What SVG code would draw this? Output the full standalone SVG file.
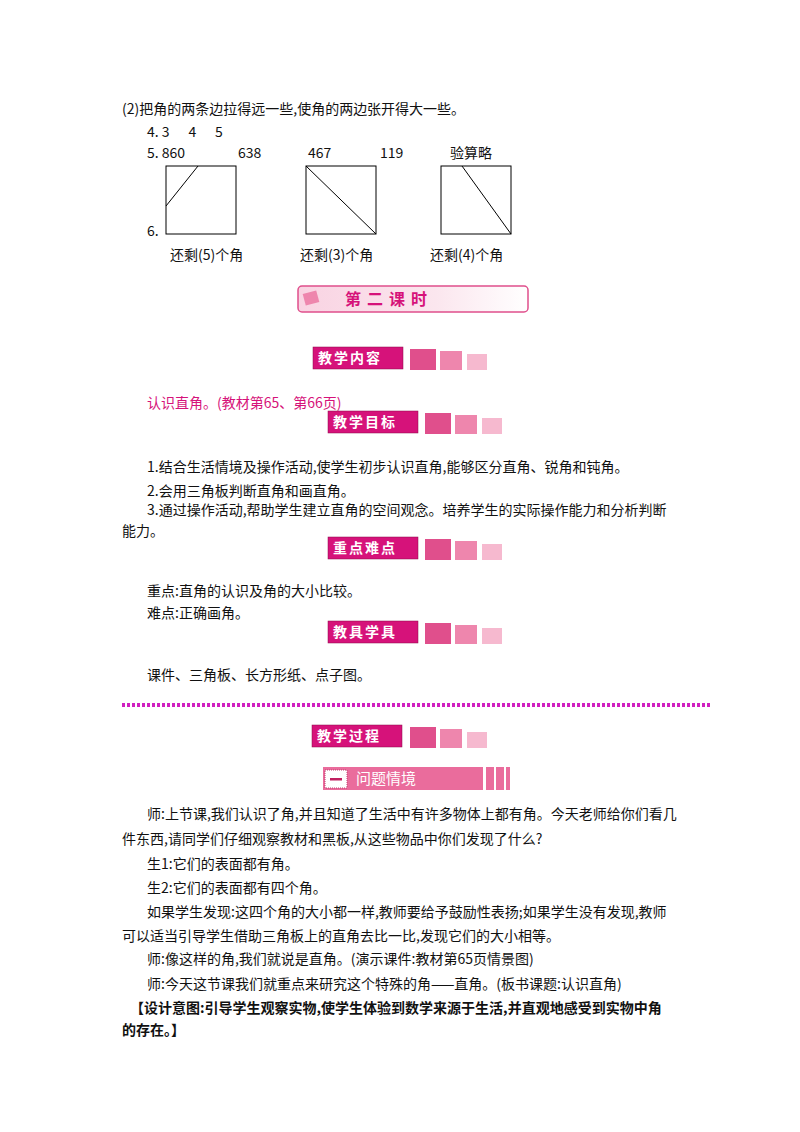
<svg xmlns="http://www.w3.org/2000/svg" width="800" height="1132" viewBox="0 0 800 1132">
<defs>
<style>
text{font-family:"Noto Sans CJK SC","Liberation Sans",sans-serif;font-size:14px;fill:#111}
.b{font-weight:bold}
.tag{fill:#d6127a;stroke:#8a0a4a;stroke-width:0.5}
.tt{fill:#fff;font-size:14px;font-weight:bold;letter-spacing:2px}
.s1{fill:#e04f8c}.s2{fill:#ee86ad}.s3{fill:#f6b9cf}
.sq{fill:none;stroke:#000;stroke-width:1}
</style>
<linearGradient id="g" x1="0" x2="1"><stop offset="0" stop-color="#f9d3e2"/><stop offset="0.6" stop-color="#fbe6ee"/><stop offset="1" stop-color="#fff"/></linearGradient>
</defs>
<rect width="800" height="1132" fill="#fff"/>
<text x="122" y="114">(2)把角的两条边拉得远一些,使角的两边张开得大一些。</text>
<text x="147" y="137" xml:space="preserve">4. 3      4      5</text>
<text x="147" y="158">5. 860</text><text x="238" y="158">638</text><text x="308" y="158">467</text><text x="380" y="158">119</text><text x="450" y="158">验算略</text>
<g id="sq1"><rect class="sq" x="166" y="166" width="70" height="68"/><line x1="198" y1="166" x2="166" y2="206" stroke="#000"/></g>
<g id="sq2"><rect class="sq" x="306" y="166" width="70" height="68"/><line x1="306" y1="166" x2="376" y2="234" stroke="#000"/></g>
<g id="sq3"><rect class="sq" x="441" y="166" width="70" height="68"/><line x1="462" y1="166" x2="511" y2="234" stroke="#000"/></g>
<text x="147" y="236">6.</text>
<text x="170" y="260">还剩(5)个角</text><text x="300" y="260">还剩(3)个角</text><text x="430" y="260">还剩(4)个角</text>
<g id="lesson">
<rect x="298" y="286" width="230" height="26" rx="4" fill="url(#g)" stroke="#e04f8c" stroke-width="1.5"/>
<rect x="304" y="292" width="14" height="12" fill="#ee86ad" transform="rotate(-15 311 298)"/>
<text x="345" y="305" class="b" style="fill:#d6127a;font-size:16px;letter-spacing:6px">第二课时</text>
</g>
<g id="h1"><rect class="tag" x="313" y="347" width="90" height="22"/><text class="tt" x="318" y="363">教学内容</text><rect class="s1" x="410" y="349" width="26" height="21"/><rect class="s2" x="440" y="351" width="22" height="19"/><rect class="s3" x="467" y="354" width="20" height="16"/></g>
<text x="147" y="408" style="fill:#d6127a">认识直角。(教材第65、第66页)</text>
<g id="h2"><rect class="tag" x="328" y="411" width="90" height="22"/><text class="tt" x="333" y="427">教学目标</text><rect class="s1" x="425" y="413" width="26" height="21"/><rect class="s2" x="455" y="415" width="22" height="19"/><rect class="s3" x="482" y="418" width="20" height="16"/></g>
<text x="147" y="472">1.结合生活情境及操作活动,使学生初步认识直角,能够区分直角、锐角和钝角。</text>
<text x="147" y="496">2.会用三角板判断直角和画直角。</text>
<text x="147" y="515">3.通过操作活动,帮助学生建立直角的空间观念。培养学生的实际操作能力和分析判断</text>
<text x="122" y="536">能力。</text>
<g id="h3"><rect class="tag" x="328" y="537" width="90" height="22"/><text class="tt" x="333" y="553">重点难点</text><rect class="s1" x="425" y="539" width="26" height="21"/><rect class="s2" x="455" y="541" width="22" height="19"/><rect class="s3" x="482" y="544" width="20" height="16"/></g>
<text x="147" y="596">重点:直角的认识及角的大小比较。</text>
<text x="147" y="618">难点:正确画角。</text>
<g id="h4"><rect class="tag" x="328" y="621" width="90" height="22"/><text class="tt" x="333" y="637">教具学具</text><rect class="s1" x="425" y="623" width="26" height="21"/><rect class="s2" x="455" y="625" width="22" height="19"/><rect class="s3" x="482" y="628" width="20" height="16"/></g>
<text x="147" y="680">课件、三角板、长方形纸、点子图。</text>
<line x1="122" y1="705" x2="712" y2="705" stroke="#d020c0" stroke-width="4" stroke-dasharray="3 2"/>
<g id="h5"><rect class="tag" x="312" y="725" width="90" height="22"/><text class="tt" x="317" y="741">教学过程</text><rect class="s1" x="410" y="727" width="26" height="21"/><rect class="s2" x="440" y="729" width="22" height="19"/><rect class="s3" x="467" y="732" width="20" height="16"/></g>
<g id="h6"><rect x="323" y="767" width="160" height="23" fill="#ea6c9c"/><rect x="325" y="770" width="22" height="18" fill="#fff" stroke="#c04070" stroke-dasharray="1 1"/><rect x="330" y="778" width="12" height="2.5" fill="#c02060"/><text x="356" y="784" style="fill:#fff;font-size:15px">问题情境</text><rect x="486" y="767" width="8" height="23" fill="#ea6c9c"/><rect x="496" y="767" width="8" height="23" fill="#ea6c9c"/><rect x="506" y="767" width="4" height="23" fill="#ea6c9c"/></g>
<text x="147" y="819">师:上节课,我们认识了角,并且知道了生活中有许多物体上都有角。今天老师给你们看几</text>
<text x="122" y="844">件东西,请同学们仔细观察教材和黑板,从这些物品中你们发现了什么?</text>
<text x="147" y="869">生1:它们的表面都有角。</text>
<text x="147" y="893">生2:它们的表面都有四个角。</text>
<text x="147" y="917">如果学生发现:这四个角的大小都一样,教师要给予鼓励性表扬;如果学生没有发现,教师</text>
<text x="122" y="941">可以适当引导学生借助三角板上的直角去比一比,发现它们的大小相等。</text>
<text x="147" y="964">师:像这样的角,我们就说是直角。(演示课件:教材第65页情景图)</text>
<text x="147" y="989">师:今天这节课我们就重点来研究这个特殊的角——直角。(板书课题:认识直角)</text>
<text x="130" y="1013" class="b">【设计意图:引导学生观察实物,使学生体验到数学来源于生活,并直观地感受到实物中角</text>
<text x="122" y="1035" class="b">的存在。】</text>
</svg>
